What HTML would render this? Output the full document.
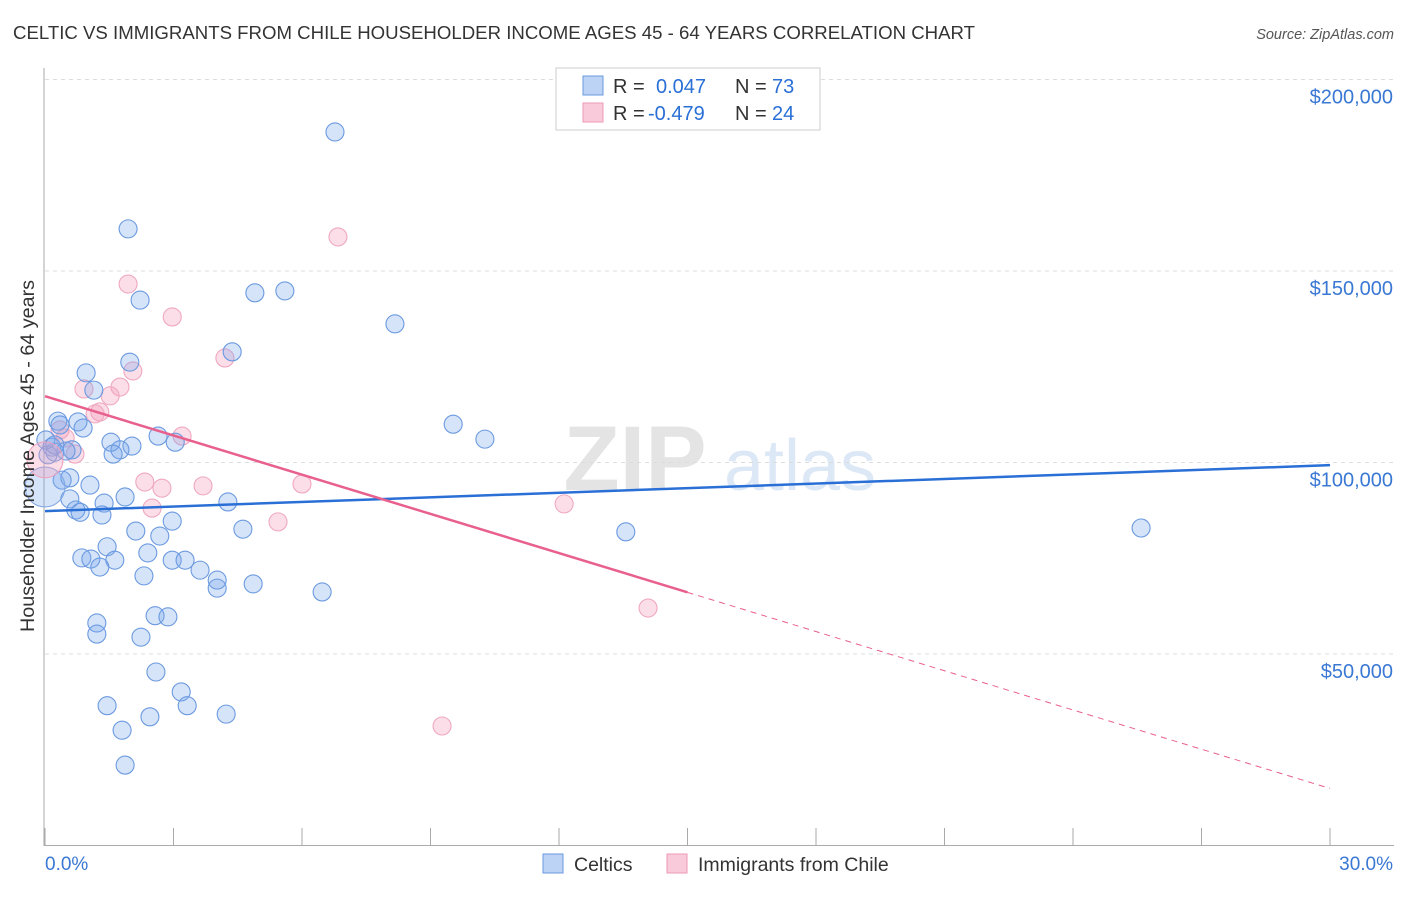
<!DOCTYPE html>
<html><head><meta charset="utf-8"><style>
body{margin:0;background:#fff;font-family:"Liberation Sans",sans-serif;}
svg text{font-family:"Liberation Sans",sans-serif;}
</style></head><body>
<svg id="c" width="1406" height="892" xmlns="http://www.w3.org/2000/svg">
<text x="13" y="39" font-size="18" fill="#333" textLength="962" lengthAdjust="spacingAndGlyphs">CELTIC VS IMMIGRANTS FROM CHILE HOUSEHOLDER INCOME AGES 45 - 64 YEARS CORRELATION CHART</text>
<text x="1394" y="39" font-size="14.5" fill="#555" font-style="italic" text-anchor="end">Source: ZipAtlas.com</text>
<g><text x="635" y="490" font-size="92" fill="#e4e4e4" font-family="Liberation Serif" text-anchor="middle" font-weight="bold">ZIP</text><text x="800" y="490" font-size="72" fill="#dde8f6" text-anchor="middle">atlas</text></g>
<g id="grid"></g><g id="axes"></g><g id="pts"></g><g id="lines"></g>
<text transform="translate(34,456) rotate(-90)" font-size="19.5" fill="#333" text-anchor="middle" textLength="352" lengthAdjust="spacingAndGlyphs">Householder Income Ages 45 - 64 years</text>
<text x="45" y="870" font-size="19" fill="#3a78d4">0.0%</text>
<text x="1393" y="870" font-size="19" fill="#3a78d4" text-anchor="end">30.0%</text>
<g>
<rect x="556" y="68" width="264" height="62" fill="#fff" stroke="#ccc"/>
<rect x="583" y="76" width="20" height="19" fill="#bcd3f5" stroke="#6a9ae0"/>
<rect x="583" y="103" width="20" height="19" fill="#f9cad9" stroke="#ee9ab5"/>
<text x="613" y="93" font-size="20" fill="#333">R =</text>
<text x="656" y="93" font-size="20" fill="#2a6fd6">0.047</text>
<text x="735" y="93" font-size="20" fill="#333">N =</text>
<text x="772" y="93" font-size="20" fill="#2a6fd6">73</text>
<text x="613" y="120" font-size="20" fill="#333">R =</text>
<text x="648" y="120" font-size="20" fill="#2a6fd6">-0.479</text>
<text x="735" y="120" font-size="20" fill="#333">N =</text>
<text x="772" y="120" font-size="20" fill="#2a6fd6">24</text>
</g>
<g>
<rect x="543" y="854" width="20" height="19" fill="#bcd3f5" stroke="#6a9ae0"/>
<text x="574" y="871" font-size="19.5" fill="#333">Celtics</text>
<rect x="667" y="854" width="20" height="19" fill="#f9cad9" stroke="#ee9ab5"/>
<text x="698" y="871" font-size="19.5" fill="#333">Immigrants from Chile</text>
</g>
</svg>
<script>
const yTicks=[50000,100000,150000,200000];
const yTickLabels=["$50,000","$100,000","$150,000","$200,000"];
const xTicks=[0,3,6,9,12,15,18,21,24,27,30];
const celticX=[6.77,1.94,2.22,4.90,5.60,8.17,4.37,1.98,0.96,1.14,9.53,10.27,0.30,0.35,0.77,0.89,2.64,3.04,1.54,2.03,1.75,1.59,0.16,0.23,0.63,0.58,0.40,1.05,0.58,1.87,4.27,1.38,0.72,0.82,1.33,2.97,4.62,2.12,2.68,13.56,25.59,1.45,2.40,0.86,1.07,1.63,1.28,2.97,3.27,3.62,2.31,4.02,4.02,4.86,6.47,1.21,1.21,2.57,2.87,2.24,2.59,3.18,1.45,3.32,2.45,4.23,1.80,1.87,0.07,0.49,0.02,0.23];
const celticY=[186.3,161.0,142.4,144.3,144.8,136.2,128.9,126.2,123.4,118.9,110.0,106.1,110.8,109.8,110.6,109.0,106.9,105.3,105.3,104.3,103.3,102.2,104.0,102.7,103.3,96.0,95.4,94.1,90.5,91.0,89.7,89.4,87.6,87.0,86.3,84.7,82.6,82.1,80.8,81.9,82.9,78.0,76.4,75.1,74.8,74.5,72.7,74.5,74.5,71.9,70.4,69.3,67.2,68.3,66.2,58.1,55.2,60.0,59.7,54.4,45.3,40.1,36.5,36.5,33.6,34.3,30.1,21.0,102.0,103.0,105.9,104.6];
const chileX=[6.84,1.94,2.97,4.20,2.05,1.75,0.91,1.52,1.28,1.17,0.35,0.47,0.70,3.20,2.33,2.73,3.69,6.00,2.50,5.44,12.12,14.08,9.27];
const chileY=[158.9,146.6,138.0,127.3,123.9,119.7,119.2,117.4,113.2,112.7,108.5,106.4,102.2,106.9,94.9,93.3,93.9,94.4,88.1,84.5,89.2,62.0,31.2];
const bigX=[0,0];const bigY=[93.6,100.7];
const celticTrend=[87.3,99.3];
const chileTrend=[117.3,14.9];
const chileSolidEnd=15;
const NS="http://www.w3.org/2000/svg";
const X=v=>45+v/30*1285;
const Y=v=>845.5-v/50000*191.5;
function mk(tag,attrs,parent){const e=document.createElementNS(NS,tag);for(const k in attrs)e.setAttribute(k,attrs[k]);document.getElementById(parent).appendChild(e);return e;}
yTicks.forEach((t,i)=>{
 const g=mk('line',{x1:45,x2:1394,y1:Y(t),y2:Y(t),stroke:'#ddd','stroke-dasharray':'4,4'},'grid');
 
 
 const tx=mk('text',{x:1393,y:Y(t)+24,'font-size':20,fill:'#3a78d4','text-anchor':'end'},'grid');
 tx.textContent=yTickLabels[i];
 
 
});
const ax=mk('line',{x1:44,x2:44,y1:68,y2:846,stroke:'#aaa'},'axes');


const bx=mk('line',{x1:44,x2:1394,y1:845.5,y2:845.5,stroke:'#aaa'},'axes');


xTicks.forEach(t=>{
 const l=mk('line',{x1:X(t),x2:X(t),y1:828,y2:845,stroke:'#aaa'},'axes');
 
 
});
chileX.forEach((x,i)=>{
 const c=mk('circle',{cx:X(x),cy:Y(chileY[i]*1000),r:9,fill:'rgba(244,160,190,0.35)',stroke:'#f0a8c0','stroke-width':1.1},'pts');
 
 
});
celticX.forEach((x,i)=>{
 const c=mk('circle',{cx:X(x),cy:Y(celticY[i]*1000),r:9,fill:'rgba(120,165,235,0.3)',stroke:'#6b9ae0','stroke-width':1.1},'pts');
 
 
});
bigX.forEach((x,i)=>{
 const c=mk('circle',{cx:X(x),cy:Y(bigY[i]*1000),r:i==0?20:18,fill:i==0?'rgba(120,165,235,0.3)':'rgba(244,160,190,0.35)',stroke:i==0?'#7fa6e2':'#efa0bb'},'pts');
 
 
});
const bl=mk('line',{x1:X(0),y1:Y(celticTrend[0]*1000),x2:X(30),y2:Y(celticTrend[1]*1000),stroke:'#2a6fd6','stroke-width':2.5},'lines');


const cy=v=>chileTrend[0]+(chileTrend[1]-chileTrend[0])*v/30;
const pl=mk('line',{x1:X(0),y1:Y(cy(0)*1000),x2:X(chileSolidEnd),y2:Y(cy(chileSolidEnd)*1000),stroke:'#e8608e','stroke-width':2.5},'lines');


const pd=mk('line',{x1:X(chileSolidEnd),y1:Y(cy(chileSolidEnd)*1000),x2:X(30),y2:Y(cy(30)*1000),stroke:'#e8608e','stroke-width':1,'stroke-dasharray':'6,5'},'lines');


</script>
</body></html>
